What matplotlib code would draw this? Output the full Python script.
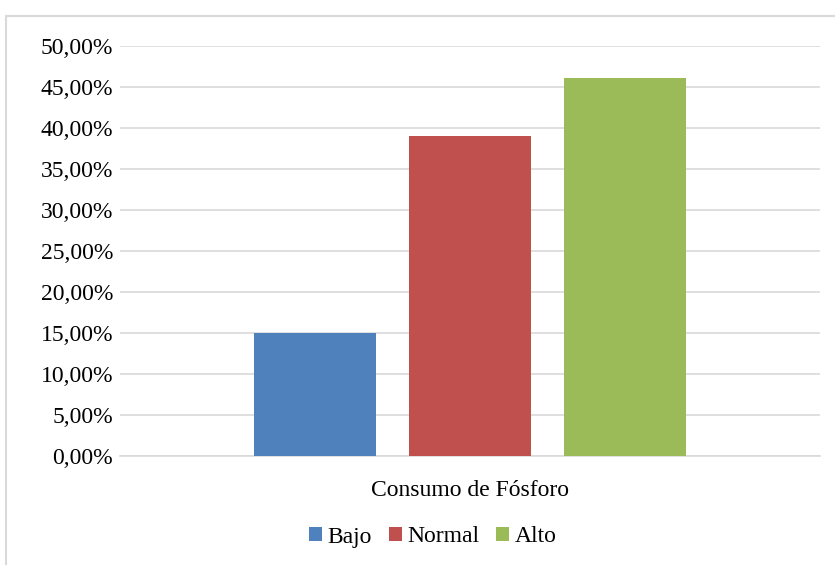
import matplotlib
matplotlib.use("Agg")
import matplotlib.pyplot as plt
from matplotlib.patches import Rectangle, Patch
from matplotlib.ticker import FuncFormatter

categories = ["Consumo de Fósforo"]
series_names = ["Bajo", "Normal", "Alto"]
series_values = [0.15, 0.39, 0.461]
colors = ["#4f81bd", "#c0504d", "#9bbb59"]

plt.rcParams['font.family'] = ['Liberation Serif', 'DejaVu Serif']

W, H = 835, 565
fig = plt.figure(figsize=(W / 100, H / 100), dpi=100)
ax = fig.add_axes([120 / W, 1 - 456 / H, 700 / W, 410 / H])

bw = 122 / 700
step = 155 / 700
center = 0.5
for i, (name, v, c) in enumerate(zip(series_names, series_values, colors)):
    ax.bar(center + (i - 1) * step, v, width=bw, color=c, label=name, zorder=3)

FS = 17
ax.set_xlim(0, 1)
ax.set_ylim(0, 0.5)
ax.set_yticks([i * 0.05 for i in range(11)])
ax.yaxis.set_major_formatter(FuncFormatter(lambda v, p: f"{v*100:.2f}%".replace(".", ",")))
ax.set_xticks([center])
ax.set_xticklabels(categories)
ax.tick_params(axis='both', length=0, labelsize=FS, colors="#000000")
ax.tick_params(axis='y', pad=5)
ax.tick_params(axis='x', pad=17)
ax.grid(axis='y', color="#d9d9d9", linewidth=1.2, zorder=0)
for s in ["top", "right", "left"]:
    ax.spines[s].set_visible(False)
ax.spines["bottom"].set_color("#d9d9d9")
ax.spines["bottom"].set_linewidth(1.2)

handles = [Patch(facecolor=c, label=n) for n, c in zip(series_names, colors)]
fig.legend(handles=handles, loc="center", bbox_to_anchor=(433 / W, 1 - 537 / H),
           ncol=3, frameon=False, fontsize=FS, handlelength=0.55, handleheight=0.55,
           handletextpad=0.25, columnspacing=0.7)

fig.patches.append(Rectangle((5.5 / W, 1 - 15.5 / H - 560 / H), 840 / W, 560 / H,
                             transform=fig.transFigure, fill=False,
                             edgecolor="#d9d9d9", linewidth=1.5))

fig.savefig("out.png", dpi=100, facecolor="white")
